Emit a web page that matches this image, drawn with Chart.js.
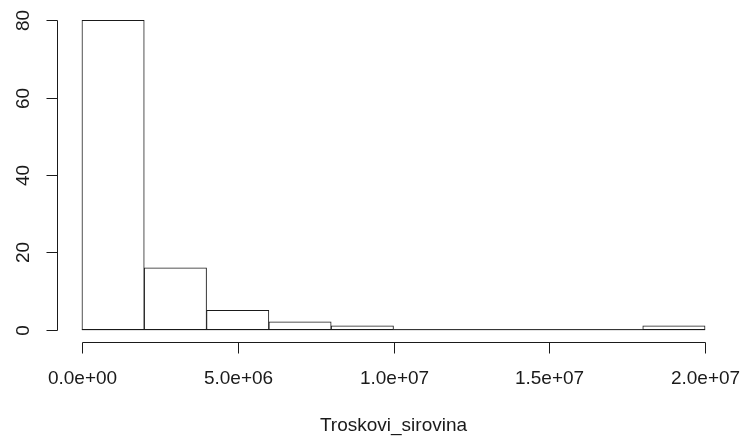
<!DOCTYPE html>
<html>
<head>
<meta charset="utf-8">
<script src="https://cdn.jsdelivr.net/npm/chart.js@4/dist/chart.umd.min.js"></script>
<style>
  html, body { margin: 0; padding: 0; background: #fff; }
</style>
</head>
<body>
<canvas id="histChart" width="744" height="441"></canvas>
<script>
// histogram of Troskovi_sirovina, bins of 2e6
const binEdges = [0, 2e6, 4e6, 6e6, 8e6, 1e7, 1.2e7, 1.4e7, 1.6e7, 1.8e7, 2e7];
const binCounts = [80, 16, 5, 2, 1, 0, 0, 0, 0, 1];
const xTicks = [0, 5e6, 1e7, 1.5e7, 2e7];
const xTickLabels = ["0.0e+00", "5.0e+06", "1.0e+07", "1.5e+07", "2.0e+07"];
const yTicks = [0, 20, 40, 60, 80];
const xTitle = "Troskovi_sirovina";

const FONT = "19px 'Liberation Sans', Arial, sans-serif";
const INK = "#1a1a1a";

const bars = binCounts.map((c, i) => ({ x: (binEdges[i] + binEdges[i + 1]) / 2, y: c }));
const baseline = [
  { x: binEdges[0], y: 0 },
  { x: binEdges[binEdges.length - 1], y: 0 },
];

// R-style extended ranges (4% on each side)
const xSpan = binEdges[binEdges.length - 1] - binEdges[0];
const yMax = Math.max(...yTicks);

// axes drawn like base R: lines only between first and last tick
const rAxes = {
  id: "rAxes",
  afterDraw(chart) {
    const ctx = chart.ctx;
    const xs = chart.scales.x, ys = chart.scales.y;
    const area = chart.chartArea;
    const tick = 11;
    ctx.save();
    ctx.strokeStyle = INK;
    ctx.fillStyle = INK;
    ctx.lineWidth = 1;
    ctx.font = FONT;

    // x axis
    const ay = Math.round(area.bottom) + 0.5;
    const px = xTicks.map((v) => Math.round(xs.getPixelForValue(v)) + 0.5);
    ctx.beginPath();
    ctx.moveTo(px[0], ay);
    ctx.lineTo(px[px.length - 1], ay);
    px.forEach((p) => { ctx.moveTo(p, ay); ctx.lineTo(p, ay + tick); });
    ctx.stroke();
    ctx.textAlign = "center";
    ctx.textBaseline = "middle";
    px.forEach((p, i) => ctx.fillText(xTickLabels[i], p, 379));
    ctx.fillText(xTitle, (area.left + area.right) / 2, 426);

    // y axis
    const ax = Math.round(area.left) + 0.5;
    const py = yTicks.map((v) => Math.round(ys.getPixelForValue(v)) + 0.5);
    ctx.beginPath();
    ctx.moveTo(ax, py[0]);
    ctx.lineTo(ax, py[py.length - 1]);
    py.forEach((p) => { ctx.moveTo(ax, p); ctx.lineTo(ax - tick, p); });
    ctx.stroke();
    py.forEach((p, i) => {
      ctx.save();
      ctx.translate(24, p);
      ctx.rotate(-Math.PI / 2);
      ctx.fillText(String(yTicks[i]), 0, 0);
      ctx.restore();
    });
    ctx.restore();
  },
};

new Chart(document.getElementById("histChart"), {
  type: "bar",
  data: {
    datasets: [
      {
        type: "line",
        data: baseline,
        borderColor: INK,
        borderWidth: 1,
        pointRadius: 0,
        order: 1,
      },
      {
        data: bars,
        backgroundColor: "#fff",
        borderColor: INK,
        borderWidth: 1,
        borderSkipped: false,
        barPercentage: 1,
        categoryPercentage: 1,
        grouped: false,
        order: 2,
      },
    ],
  },
  options: {
    responsive: false,
    animation: false,
    layout: { padding: { left: 57, right: 14, top: 8, bottom: 99 } },
    plugins: { legend: { display: false }, tooltip: { enabled: false } },
    scales: {
      x: {
        type: "linear",
        display: false,
        offset: false,
        min: binEdges[0] - 0.04 * xSpan,
        max: binEdges[binEdges.length - 1] + 0.04 * xSpan,
      },
      y: {
        display: false,
        min: -0.04 * yMax,
        max: yMax * 1.04,
      },
    },
  },
  plugins: [rAxes],
});
</script>
</body>
</html>
